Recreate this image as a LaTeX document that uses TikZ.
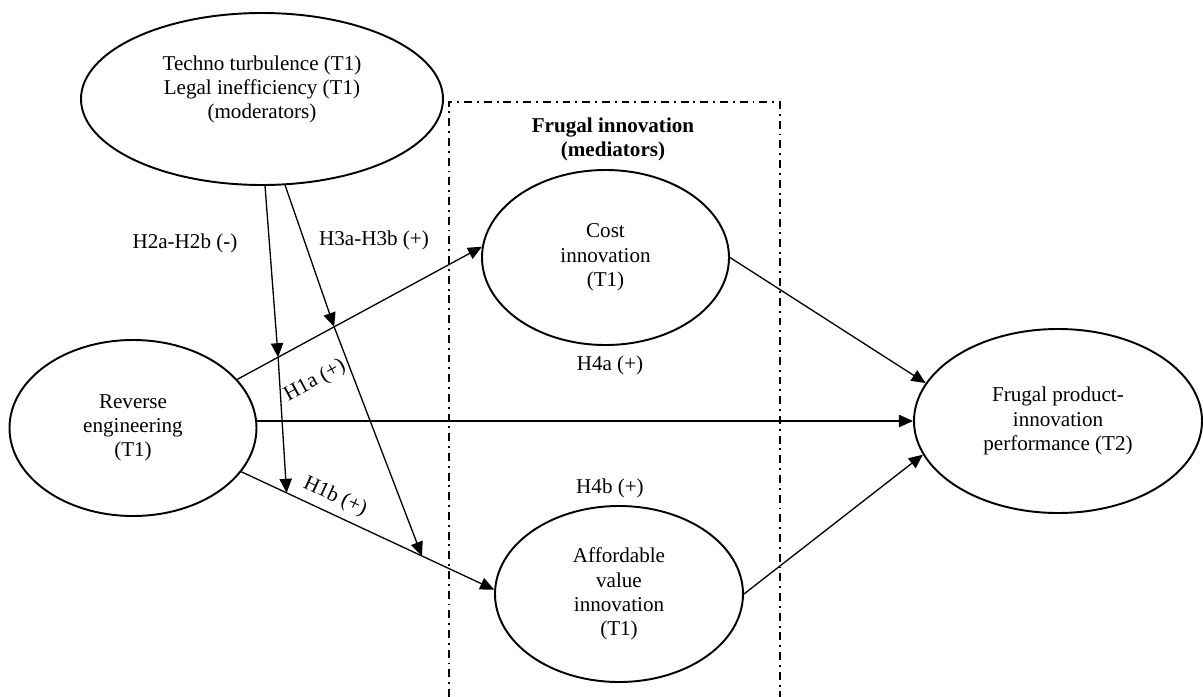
\documentclass[tikz,border=0pt]{standalone}
\usepackage{fontspec}
\setmainfont{Liberation Serif}
\usetikzlibrary{arrows.meta,shapes.geometric}

\begin{document}
\begin{tikzpicture}[font=\fontsize{12}{13.8}\selectfont,
  construct/.style={draw, ellipse, line width=1.1pt, inner sep=0pt, align=center},
  arr/.style={-{Triangle[length=8pt,width=7pt]}, line width=0.75pt},
  medbox/.style={line width=1.1pt, dash pattern=on 4.5pt off 2.8pt on 1.1pt off 2.8pt}]
\useasboundingbox (0,0) rectangle (24.06,-13.94);
% mediator frame, open at the bottom
\draw[medbox] (8.98,-13.94) |- (15.6,-2.04) -- (15.6,-13.94);
\node[font=\fontsize{12}{13.8}\selectfont\bfseries, align=center] (medtitle) at (12.26,-2.79) {Frugal innovation\\(mediators)};

\node[construct, minimum width=7.24cm, minimum height=3.44cm] (mod) at (5.24,-1.98) {Techno turbulence (T1)\\Legal inefficiency (T1)\\(moderators)\\[-0.6pt]\mbox{}};
\node[construct, minimum width=4.94cm, minimum height=3.52cm] (rev) at (2.66,-8.56) {Reverse\\engineering\\(T1)};
\node[construct, minimum width=4.94cm, minimum height=3.5cm] (cost) at (12.11,-5.15) {Cost\\innovation\\(T1)};
\node[construct, minimum width=4.96cm, minimum height=3.52cm] (aff) at (12.38,-11.88) {Affordable\\value\\innovation\\(T1)};
\node[construct, minimum width=5.76cm, minimum height=3.68cm] (perf) at (21.16,-8.42) {Frugal product-\\innovation\\performance (T2)};

% direct and mediated paths
\draw[arr] (rev.25) -- coordinate[pos=0.167] (h2a) coordinate[pos=0.396] (h3a) (cost.175);
\draw[arr] (rev.-22) -- coordinate[pos=0.179] (h2b) coordinate[pos=0.714] (h3b) (aff.178);
\draw[arr] (perf.west -| rev.east) -- (perf.west);
\draw[arr] (cost.east) -- (perf.164);
\draw[arr] (aff.east) -- (perf.194);

% moderating paths
\draw[arr] (mod.-88) -- (h2a);
\draw[arr] (h2a) -- (h2b);
\draw[arr] (mod.-75) -- (h3a);
\draw[arr] (h3a) -- (h3b);

\node (lblHtwo) at (3.7,-4.86) {H2a-H2b (-)};
\node (lblHthree) at (7.48,-4.8) {H3a-H3b (+)};
\node[rotate=28.5] (lblHonea) at (6.3,-7.62) {H1a (+)};
\node[rotate=-25] (lblHoneb) at (6.7,-9.94) {H1b (+)};
\node (lblHfoura) at (12.2,-7.3) {H4a (+)};
\node (lblHfourb) at (12.2,-9.76) {H4b (+)};
\end{tikzpicture}
\end{document}
